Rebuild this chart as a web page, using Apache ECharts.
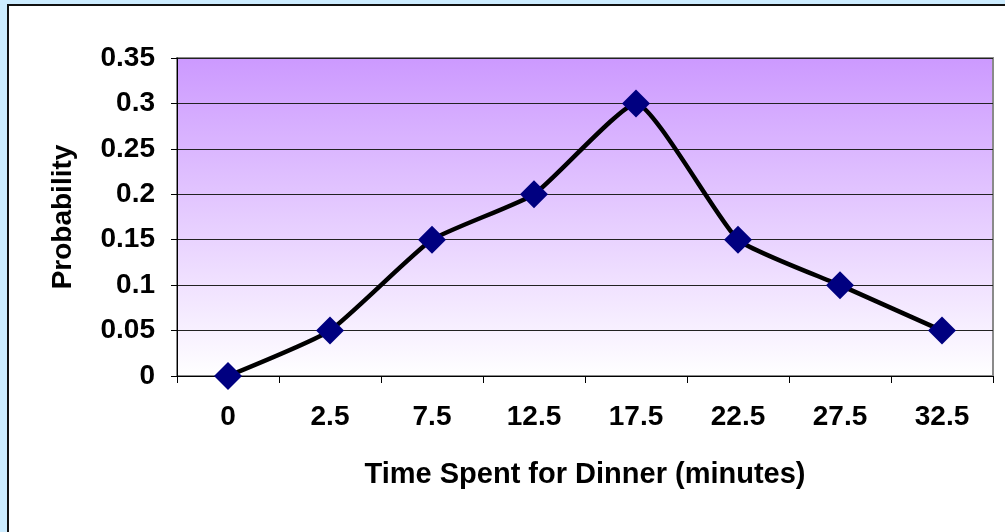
<!DOCTYPE html>
<html>
<head>
<meta charset="utf-8">
<title>Time Spent for Dinner</title>
<script src="https://cdn.jsdelivr.net/npm/echarts@6/dist/echarts.min.js"></script>
<style>
  html, body { margin: 0; padding: 0; background: #CCECFF; }
  #chart { width: 1005px; height: 532px; }
</style>
</head>
<body>
<div id="chart"></div>
<script>
// Dinner duration distribution
const categories = ['0', '2.5', '7.5', '12.5', '17.5', '22.5', '27.5', '32.5'];
const probabilities = [0, 0.05, 0.15, 0.2, 0.3, 0.15, 0.1, 0.05];
const yMin = 0;
const yMax = 0.35;
const yStep = 0.05;
const xTitle = 'Time Spent for Dinner (minutes)';
const yTitle = 'Probability';

const FONT = '"Liberation Sans", Arial, sans-serif';

const chart = echarts.init(document.getElementById('chart'), null, { renderer: 'canvas' });

chart.setOption({
  backgroundColor: '#CCECFF',
  animation: false,
  graphic: [{
    type: 'rect',
    z: -10,
    silent: true,
    shape: { x: 8, y: 5, width: 1010, height: 540 },
    style: { fill: '#FFFFFF', stroke: '#111111', lineWidth: 2 }
  }],
  grid: {
    left: 177,
    right: 12,
    top: 58,
    bottom: 156,
    show: true,
    borderColor: '#8A8A8A',
    borderWidth: 2,
    backgroundColor: new echarts.graphic.LinearGradient(0, 0, 0, 1, [
      { offset: 0, color: '#CC99FF' },
      { offset: 1, color: '#FFFFFF' }
    ])
  },
  xAxis: {
    type: 'category',
    data: categories,
    boundaryGap: true,
    name: xTitle,
    nameLocation: 'middle',
    nameGap: 84,
    nameTextStyle: { fontFamily: FONT, fontWeight: 'bold', fontSize: 29, color: '#000' },
    axisLine: { lineStyle: { color: '#000', width: 1 } },
    axisTick: { show: true, length: 7, lineStyle: { color: '#000' } },
    axisLabel: { fontFamily: FONT, fontWeight: 'bold', fontSize: 28, color: '#000', margin: 27 },
    splitLine: { show: false }
  },
  yAxis: {
    type: 'value',
    min: yMin,
    max: yMax,
    interval: yStep,
    name: yTitle,
    nameLocation: 'middle',
    nameGap: 100,
    nameTextStyle: { fontFamily: FONT, fontWeight: 'bold', fontSize: 28, color: '#000' },
    axisLine: { show: true, lineStyle: { color: '#000', width: 1 } },
    axisTick: { show: true, length: 6, lineStyle: { color: '#000' } },
    axisLabel: { fontFamily: FONT, fontWeight: 'bold', fontSize: 28, color: '#000', margin: 22 },
    splitLine: { show: true, lineStyle: { color: '#222222', width: 1 } }
  },
  series: [{
    type: 'line',
    data: probabilities,
    smooth: 0.15,
    symbol: 'diamond',
    symbolSize: 28,
    itemStyle: { color: '#000080' },
    lineStyle: { color: '#000', width: 4.5 },
    z: 5
  }]
});
</script>
</body>
</html>
